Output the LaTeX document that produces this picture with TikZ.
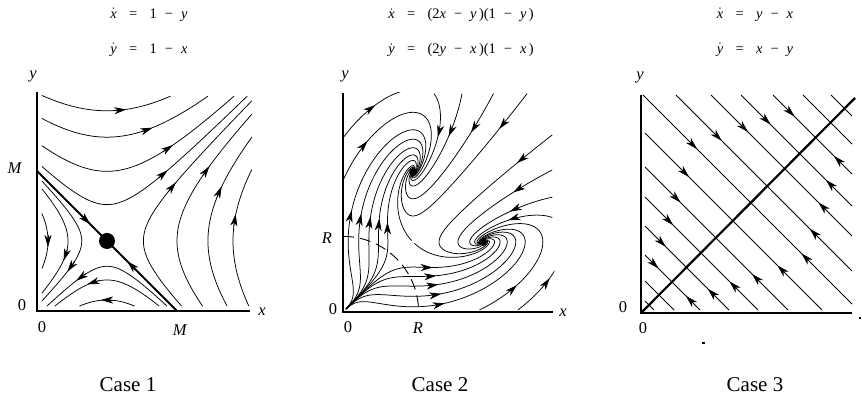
\documentclass[tikz,border=0pt]{standalone}
\usepackage{fontspec}
\setmainfont{Liberation Serif}
\usetikzlibrary{arrows.meta,decorations.markings}

\ExplSyntaxOn
\fp_new:N \l__ph_x_fp
\fp_new:N \l__ph_y_fp
\fp_new:N \l__ph_mx_fp
\fp_new:N \l__ph_my_fp
\fp_new:N \l__ph_u_fp
\fp_new:N \l__ph_v_fp
\fp_new:N \l__ph_n_fp
\fp_new:N \l__ph_t_fp
\tl_new:N \l__ph_pts_tl
\tl_new:N \phpts
\int_new:N \l__ph_i_int
\bool_new:N \l__ph_go_bool
\cs_new_protected:Npn \__ph_dir:NN #1#2
  {
    \fp_set:Nn \l__ph_u_fp { (2*#1-#2)*(1-#2) }
    \fp_set:Nn \l__ph_v_fp { (2*#2-#1)*(1-#1) }
    \fp_set:Nn \l__ph_n_fp { sqrt(\l__ph_u_fp*\l__ph_u_fp+\l__ph_v_fp*\l__ph_v_fp)+0.000000001 }
    \fp_set:Nn \l__ph_u_fp { \l__ph_u_fp/\l__ph_n_fp }
    \fp_set:Nn \l__ph_v_fp { \l__ph_v_fp/\l__ph_n_fp }
  }
\cs_new_protected:Npn \__ph_run:nnnnN #1#2#3#4#5
  {
    \fp_set:Nn \l__ph_x_fp {#1}
    \fp_set:Nn \l__ph_y_fp {#2}
    \int_zero:N \l__ph_i_int
    \bool_set_true:N \l__ph_go_bool
    \bool_while_do:Nn \l__ph_go_bool
      {
        \__ph_dir:NN \l__ph_x_fp \l__ph_y_fp
        \fp_set:Nn \l__ph_mx_fp { \l__ph_x_fp+0.5*(#3)*\l__ph_u_fp }
        \fp_set:Nn \l__ph_my_fp { \l__ph_y_fp+0.5*(#3)*\l__ph_v_fp }
        \__ph_dir:NN \l__ph_mx_fp \l__ph_my_fp
        \fp_set:Nn \l__ph_x_fp { \l__ph_x_fp+(#3)*\l__ph_u_fp }
        \fp_set:Nn \l__ph_y_fp { \l__ph_y_fp+(#3)*\l__ph_v_fp }
        #5 \l__ph_pts_tl { (\fp_to_decimal:n {round(\l__ph_x_fp,4)},\fp_to_decimal:n {round(\l__ph_y_fp,4)}) }
        \int_incr:N \l__ph_i_int
        \int_compare:nNnT \l__ph_i_int > {#4} { \bool_set_false:N \l__ph_go_bool }
        \fp_set:Nn \l__ph_t_fp
          {
            (\l__ph_x_fp+0.03<0)+(\l__ph_x_fp>3.05)+(\l__ph_y_fp+0.03<0)+(\l__ph_y_fp>3.16)
            +(((\l__ph_x_fp-1)*(\l__ph_x_fp-1)+(\l__ph_y_fp-2)*(\l__ph_y_fp-2))<0.0025)
            +(((\l__ph_x_fp-2)*(\l__ph_x_fp-2)+(\l__ph_y_fp-1)*(\l__ph_y_fp-1))<0.0025)
            +((\l__ph_x_fp*\l__ph_x_fp+\l__ph_y_fp*\l__ph_y_fp)<0.0064)
          }
        \fp_compare:nNnT \l__ph_t_fp > {0} { \bool_set_false:N \l__ph_go_bool }
      }
  }
\NewDocumentCommand \phcompute { m m m m m }
  {
    \tl_set:Nx \l__ph_pts_tl { (\fp_to_decimal:n {round(#1,4)},\fp_to_decimal:n {round(#2,4)}) }
    \int_compare:nNnT {#5} > {0} { \__ph_run:nnnnN {#1} {#2} {-(#3)} {#5} \tl_put_left:Nx }
    \int_compare:nNnT {#4} > {0} { \__ph_run:nnnnN {#1} {#2} {#3} {#4} \tl_put_right:Nx }
    \tl_gset_eq:NN \phpts \l__ph_pts_tl
  }
\ExplSyntaxOff

\newcommand\phflow[6][]{\phcompute{#2}{#3}{#4}{#5}{#6}%
  \edef\phtmp{\noexpand\draw[\unexpanded{#1}] plot coordinates {\phpts};}\phtmp}
\newcommand\tipat[3]{\draw[tipline] ([shift={(#3+180:6pt)}]#1,#2) -- ([shift={(#3:6pt)}]#1,#2);}
\newcommand\phdx{$\dot{\textit{x}}$}
\newcommand\phdy{$\dot{\textit{y}}$}
\newcommand\phsp{\hspace{0.85em}}
\newcommand\phsm{\hspace{0.55em}}

\tikzset{
  flowline/.style={line width=0.75pt},
  axisline/.style={line width=2.4pt},
  >={Stealth[length=12pt,width=7pt,inset=3.5pt]},
  tipline/.style={line width=0.75pt,->},
  arrowpos/.style={postaction={decorate,decoration={markings,mark=at position #1 with {\arrow{>}}}}},
  lbl/.style={font=\fontsize{16.5}{19}\selectfont, inner sep=0pt},
  eqn/.style={font=\fontsize{14.5}{17}\selectfont, inner sep=0pt},
  cas/.style={font=\fontsize{21}{24}\selectfont, inner sep=0pt},
}

\begin{document}
\begin{tikzpicture}[x=1pt,y=1pt]
\useasboundingbox (0,0) rectangle (862,398);

% ---------------- Case 1 ----------------
\begin{scope}[shift={(37pt,87pt)},x=70pt,y=70pt]
  \foreach \C/\b in {3.46/0.908, 2.2/1.444, 0.99/1.815, 0.27/2.004}
    \draw[flowline] plot[domain=-0.93:\b,samples=60,variable=\t] ({1+\t},{1+sqrt(\C+\t*\t)});
  \foreach \C/\b in {3.24/1.022, 2.08/1.485, 1.0/1.812, 0.27/2.004}
    \draw[flowline] plot[domain=-0.93:\b,samples=60,variable=\t] ({1+sqrt(\C+\t*\t)},{1+\t});
  \foreach \C/\b in {0.71/0.394, 0.31/0.745, 0.13/0.857}
    \draw[flowline] plot[domain=\b:-\b,samples=50,variable=\t] ({1-sqrt(\C+\t*\t)},{1+\t});
  \foreach \C/\b in {0.71/0.394, 0.31/0.745, 0.13/0.857}
    \draw[flowline] plot[domain=\b:-\b,samples=50,variable=\t] ({1+\t},{1-sqrt(\C+\t*\t)});
  \draw[line width=1.8pt] (0,2) -- (2,0);
  \fill (1,1) circle[radius=8pt];
  % arrowheads
  \tipat{1.19}{2.870}{5.8}
  \tipat{1.57}{2.589}{19.7}
  \tipat{1.87}{2.322}{33.4}
  \tipat{1.8}{1.954}{40}
  \tipat{2.825}{1.3}{80.7}
  \tipat{2.603}{1.7}{66.4}
  \tipat{2.414}{2.0}{54.7}
  \tipat{1.929}{1.77}{50.3}
  \tipat{0.157}{1.0}{-90}
  \tipat{0.408}{0.8}{-108.7}
  \tipat{0.483}{0.63}{-125.6}
  \tipat{1.0}{0.157}{180}
  \tipat{0.8}{0.408}{198.7}
  \tipat{0.63}{0.483}{215.6}
  \tipat{0.7}{1.3}{-45}
  \tipat{1.35}{0.65}{135}
  \draw[axisline] (0,3.13) -- (0,0) -- (3.04,0);
\end{scope}

% ---------------- Case 2 ----------------
\begin{scope}[shift={(343pt,86pt)},x=70pt,y=70pt]
  \begin{scope}
  \clip (0,0) rectangle (3.02,3.14);
  % fan from the origin
  \foreach \px/\py in {0.0753/1.0774, 0.2245/1.0564, 0.3694/1.0149, 0.5070/0.9536, 0.6348/0.8737,
                       0.8737/0.6348, 0.9536/0.5070, 1.0149/0.3694, 1.0564/0.2245, 1.0774/0.0753}
    {\phflow[flowline,arrowpos=100pt]{\px}{\py}{0.03}{220}{80}}
  % from the top
  \foreach \px in {1.3,1.7,2.15,2.63}
    {\phflow[flowline,arrowpos=45pt]{\px}{3.12}{0.03}{220}{0}}
  % from the right
  \foreach \py in {2.53,2.03,1.64,1.35}
    {\phflow[flowline,arrowpos=45pt]{2.99}{\py}{0.03}{220}{0}}
  % from the bottom
  \foreach \px in {1.95,2.5}
    {\phflow[flowline,arrowpos=45pt]{\px}{0.03}{0.03}{220}{0}}
  % from the left
  \foreach \py in {1.9,2.5}
    {\phflow[flowline,arrowpos=45pt]{0.01}{\py}{0.03}{220}{0}}
  % from the saddle
  \phflow[flowline]{0.98}{1.02}{0.03}{220}{0}
  \phflow[flowline]{1.02}{0.98}{0.03}{220}{0}
  \end{scope}
  \draw[line width=0.9pt,dash pattern=on 11pt off 6pt] (0,1.08) arc[start angle=90,end angle=0,radius=1.08];
  \fill (1,2) circle[radius=4pt];
  \fill (2,1) circle[radius=4pt];
  \draw[axisline] (0,3.13) -- (0,0) -- (3.0,0);
\end{scope}

% ---------------- Case 3 ----------------
\begin{scope}[shift={(641pt,85pt)}]
  \foreach \sx/\sy/\ex/\ey/\m in {4/12/13/3/8, 4/32/33/3/18}
    \draw[flowline] (\sx,\sy) -- (\ex,\ey);
  \foreach \sx/\sy/\ex/\ey/\m in {4/58/59/3/31, 4/87/88/3/45.5, 4/116/117/3/60, 4/146/147/3/75,
      4/180/181/3/92, 2/218/211/9/110, 35/218/211/42/126.5, 70/218/211/77/144,
      100/218/211/107/159, 132/218/211/139/175}
    {\draw[flowline,arrowpos=0.5] (\sx,\sy) -- (\m,\m);
     \draw[flowline,arrowpos=0.5] (\ex,\ey) -- (\m,\m);}
  \foreach \sx/\sy/\ex/\ey in {162/218/211/169, 190/218/211/197}
    \draw[flowline] (\sx,\sy) -- (\ex,\ey);
  \draw[line width=2.2pt] (0,0) -- (214,215);
  \draw[axisline] (0,218) -- (0,0) -- (211,0);
  \fill (61,-31) rectangle (64,-29.5);
  \fill (218,-6) rectangle (220,-4.5);
\end{scope}

% ---------------- texts ----------------
\node[eqn] (e1a) at (149,383) {\phdx\phsp=\phsp 1\phsm−\phsm\textit{y}};
\node[eqn] (e1b) at (149,348) {\phdy\phsp=\phsp 1\phsm−\phsm\textit{x}};
\node[eqn] (e2a) at (461,383) {\phdx\phsp=\phsp (2\textit{x}\phsm−\phsm\textit{y}\,)(1\phsm−\phsm\textit{y}\,)};
\node[eqn] (e2b) at (461,348) {\phdy\phsp=\phsp (2\textit{y}\phsm−\phsm\textit{x}\,)(1\phsm−\phsm\textit{x}\,)};
\node[eqn] (e3a) at (755,383) {\phdx\phsp=\phsp\textit{y}\phsm−\phsm\textit{x}};
\node[eqn] (e3b) at (755,348) {\phdy\phsp=\phsp\textit{x}\phsm−\phsm\textit{y}};

\node[lbl] (y1) at (33,321) {\textit{y}};
\node[lbl] (m1) at (15,230) {\textit{M}};
\node[lbl] (o1a) at (22,93) {0};
\node[lbl] (o1b) at (42,71) {0};
\node[lbl] (m1b) at (180,68) {\textit{M}};
\node[lbl] (x1) at (262,86) {\textit{x}};

\node[lbl] (y2) at (345,321) {\textit{y}};
\node[lbl] (r2) at (327,160) {\textit{R}};
\node[lbl] (o2a) at (333,89) {0};
\node[lbl] (o2b) at (348,71) {0};
\node[lbl] (r2b) at (418,70) {\textit{R}};
\node[lbl] (x2) at (563,85) {\textit{x}};

\node[lbl] (y3) at (640,320) {\textit{y}};
\node[lbl] (o3a) at (623,91) {0};
\node[lbl] (o3b) at (643,70) {0};

\node[cas] (c1) at (128,13) {Case 1};
\node[cas] (c2) at (440,13) {Case 2};
\node[cas] (c3) at (755,13) {Case 3};
\end{tikzpicture}
\end{document}
